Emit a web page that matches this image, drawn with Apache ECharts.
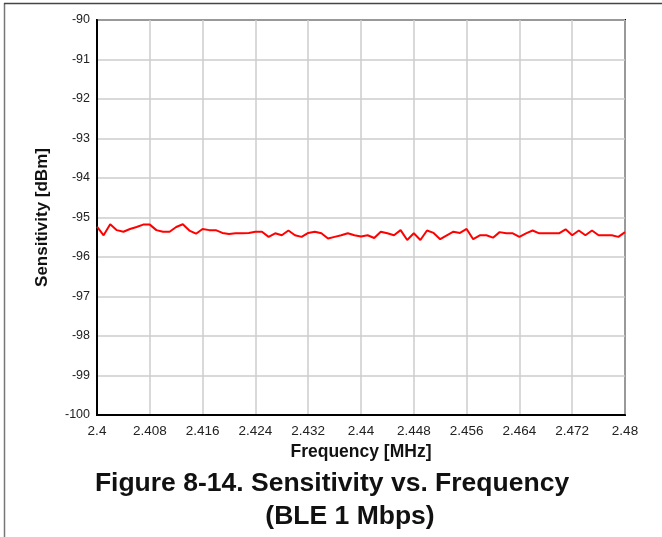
<!DOCTYPE html>
<html>
<head>
<meta charset="utf-8">
<script src="https://cdn.jsdelivr.net/npm/echarts@6/dist/echarts.min.js"></script>
<style>
html,body{margin:0;padding:0;background:#fff;}
#c{width:662px;height:537px;}
</style>
</head>
<body>
<div id="c"></div>
<script>
const frequencies = [
  2.400,2.401,2.402,2.403,2.404,2.405,2.406,2.407,2.408,2.409,
  2.410,2.411,2.412,2.413,2.414,2.415,2.416,2.417,2.418,2.419,
  2.420,2.421,2.422,2.423,2.424,2.425,2.426,2.427,2.428,2.429,
  2.430,2.431,2.432,2.433,2.434,2.435,2.436,2.437,2.438,2.439,
  2.440,2.441,2.442,2.443,2.444,2.445,2.446,2.447,2.448,2.449,
  2.450,2.451,2.452,2.453,2.454,2.455,2.456,2.457,2.458,2.459,
  2.460,2.461,2.462,2.463,2.464,2.465,2.466,2.467,2.468,2.469,
  2.470,2.471,2.472,2.473,2.474,2.475,2.476,2.477,2.478,2.479,
  2.480
];
const sensitivity = [
  -95.23,-95.45,-95.17,-95.32,-95.36,-95.29,-95.24,-95.18,-95.18,-95.32,
  -95.36,-95.36,-95.24,-95.17,-95.33,-95.41,-95.29,-95.32,-95.32,-95.39,
  -95.42,-95.40,-95.40,-95.39,-95.36,-95.36,-95.49,-95.40,-95.45,-95.33,
  -95.45,-95.49,-95.39,-95.36,-95.40,-95.53,-95.49,-95.45,-95.40,-95.45,
  -95.48,-95.45,-95.52,-95.36,-95.40,-95.45,-95.32,-95.57,-95.40,-95.57,
  -95.33,-95.39,-95.55,-95.45,-95.36,-95.39,-95.29,-95.55,-95.45,-95.45,
  -95.51,-95.37,-95.40,-95.40,-95.49,-95.40,-95.33,-95.40,-95.40,-95.40,
  -95.40,-95.30,-95.45,-95.33,-95.45,-95.33,-95.45,-95.45,-95.45,-95.49,
  -95.37
];
const xTickLabels = ['2.4','2.408','2.416','2.424','2.432','2.44','2.448','2.456','2.464','2.472','2.48'];
const yTickLabels = ['-100','-99','-98','-97','-96','-95','-94','-93','-92','-91','-90'];
const titleLines = ['Figure 8-14. Sensitivity vs. Frequency','(BLE 1 Mbps)'];

const chart = echarts.init(document.getElementById('c'), null, {renderer:'canvas'});
const font = 'Liberation Sans, Arial, sans-serif';
chart.setOption({
  animation:false,
  backgroundColor:'#fff',
  textStyle:{fontFamily:font},
  graphic:[
    {type:'line',shape:{x1:4.5,y1:3,x2:4.5,y2:537},style:{stroke:'#777',lineWidth:1.5},z:10},
    {type:'line',shape:{x1:4,y1:3.5,x2:662,y2:3.5},style:{stroke:'#444',lineWidth:1.5},z:10},
    {type:'text',x:332,y:484,style:{text:titleLines[0],font:'bold 26.5px '+font,fill:'#111',align:'center',verticalAlign:'middle'}},
    {type:'text',x:350,y:517,style:{text:titleLines[1],font:'bold 26.5px '+font,fill:'#111',align:'center',verticalAlign:'middle'}}
  ],
  grid:{left:97,right:37,top:20,bottom:122,show:true,borderColor:'#000',borderWidth:2,containLabel:false},
  xAxis:{
    type:'value',min:2.4,max:2.48,interval:0.008,
    name:'Frequency [MHz]',nameLocation:'middle',nameGap:19,
    nameTextStyle:{fontFamily:font,fontWeight:'bold',fontSize:17.5,color:'#111'},
    axisLine:{show:true,lineStyle:{color:'#000',width:2}},
    axisTick:{show:false},
    axisLabel:{color:'#222',fontSize:13.5,fontFamily:font,margin:9,
      formatter:function(v){const i=Math.round((v-2.4)/0.008);return xTickLabels[i]!==undefined?xTickLabels[i]:'';}},
    splitLine:{show:true,lineStyle:{color:'#cccccc',width:1.5}}
  },
  yAxis:{
    type:'value',min:-100,max:-90,interval:1,
    name:'Sensitivity [dBm]',nameLocation:'middle',nameGap:46,nameRotate:90,
    nameTextStyle:{fontFamily:font,fontWeight:'bold',fontSize:17,color:'#111'},
    axisLine:{show:true,lineStyle:{color:'#000',width:2}},
    axisTick:{show:false},
    axisLabel:{color:'#222',fontSize:12.5,fontFamily:font,margin:7,
      formatter:function(v){const i=Math.round(v+100);return yTickLabels[i]!==undefined?yTickLabels[i]:'';}},
    splitLine:{show:true,lineStyle:{color:'#cccccc',width:1.5}}
  },
  series:[{
    type:'line',
    data:frequencies.map((f,i)=>[f,sensitivity[i]]),
    showSymbol:false,symbol:'none',
    lineStyle:{color:'#ff0000',width:2},
    z:5
  }]
});
</script>
</body>
</html>
